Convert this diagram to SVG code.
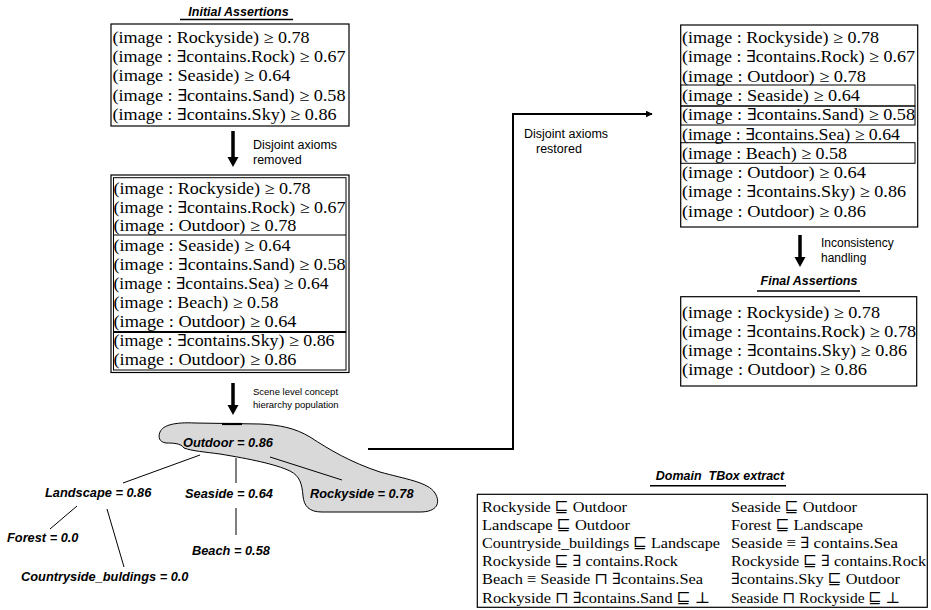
<svg xmlns="http://www.w3.org/2000/svg" width="931" height="610" viewBox="0 0 931 610">
<defs>
<style>
.bg{fill:#ffffff}
.box{fill:#ffffff;stroke:#000;stroke-width:1.2}
.ibox{fill:none;stroke:#000;stroke-width:1}
.div{stroke:#000;stroke-width:1.2;fill:none}
.m{font-family:"Liberation Serif","DejaVu Serif",serif;font-size:16.5px;fill:#000}
.tb{font-family:"Liberation Serif","DejaVu Serif",serif;font-size:15.5px;fill:#000}
.ttl{font-family:"Liberation Sans",Arial,sans-serif;font-size:12.5px;font-weight:bold;font-style:italic;fill:#000;white-space:pre}
.ul{stroke:#000;stroke-width:1.6}
.lbl{font-family:"Liberation Sans",Arial,sans-serif;font-size:12.5px;fill:#000}
.sm{font-family:"Liberation Sans",Arial,sans-serif;font-size:9.5px;fill:#000}
.node{font-family:"Liberation Sans",Arial,sans-serif;font-size:12.8px;font-weight:bold;font-style:italic;fill:#000}
.arr{fill:#000}
.edge{stroke:#000;stroke-width:1;fill:none}
.conn{stroke:#000;stroke-width:2;fill:none}
.blob{fill:#d9d9d9;stroke:#000;stroke-width:1}
</style>
<marker id="ah" viewBox="0 0 10 10" refX="9" refY="5" markerWidth="3.5" markerHeight="3.5" orient="auto" markerUnits="strokeWidth">
<path d="M0,0 L10,5 L0,10 Z" fill="#000"/>
</marker>
</defs>
<rect class="bg" x="0" y="0" width="931" height="610"/>

<g id="initial-assertions">
<text class="ttl" x="238.5" y="16" text-anchor="middle">Initial Assertions</text>
<line class="ul" x1="180" y1="19.5" x2="293" y2="19.5"/>
<rect class="box" x="111" y="24" width="238" height="102"/>
<text class="m" x="112.5" y="43" textLength="197" lengthAdjust="spacingAndGlyphs">(image : Rockyside) ≥ 0.78</text>
<text class="m" x="112.5" y="62.2" textLength="233" lengthAdjust="spacingAndGlyphs">(image : ∃contains.Rock) ≥ 0.67</text>
<text class="m" x="112.5" y="81.4" textLength="178" lengthAdjust="spacingAndGlyphs">(image : Seaside) ≥ 0.64</text>
<text class="m" x="112.5" y="100.6" textLength="233" lengthAdjust="spacingAndGlyphs">(image : ∃contains.Sand) ≥ 0.58</text>
<text class="m" x="112.5" y="119.8" textLength="224" lengthAdjust="spacingAndGlyphs">(image : ∃contains.Sky) ≥ 0.86</text>
</g>

<g id="label-removed">
<text class="lbl" x="253" y="149">Disjoint axioms</text>
<text class="lbl" x="253" y="163.5">removed</text>
</g>

<g id="expanded-assertions">
<rect class="box" x="111" y="175" width="238" height="197.5"/>
<rect class="ibox" x="113.5" y="177.7" width="232.5" height="192.3"/>
<line class="div" x1="113.5" y1="235" x2="346" y2="235"/>
<line class="div" x1="113.5" y1="332" x2="346" y2="332" style="stroke-width:2"/>
<text class="m" x="113.5" y="194" textLength="197" lengthAdjust="spacingAndGlyphs">(image : Rockyside) ≥ 0.78</text>
<text class="m" x="113.5" y="212.5" textLength="232" lengthAdjust="spacingAndGlyphs">(image : ∃contains.Rock) ≥ 0.67</text>
<text class="m" x="113.5" y="231" textLength="183" lengthAdjust="spacingAndGlyphs">(image : Outdoor) ≥ 0.78</text>
<text class="m" x="113.5" y="250.5" textLength="177" lengthAdjust="spacingAndGlyphs">(image : Seaside) ≥ 0.64</text>
<text class="m" x="113.5" y="269.5" textLength="232" lengthAdjust="spacingAndGlyphs">(image : ∃contains.Sand) ≥ 0.58</text>
<text class="m" x="113.5" y="288.5" textLength="215" lengthAdjust="spacingAndGlyphs">(image : ∃contains.Sea) ≥ 0.64</text>
<text class="m" x="113.5" y="307.5" textLength="165" lengthAdjust="spacingAndGlyphs">(image : Beach) ≥ 0.58</text>
<text class="m" x="113.5" y="326.5" textLength="183" lengthAdjust="spacingAndGlyphs">(image : Outdoor) ≥ 0.64</text>
<text class="m" x="113.5" y="346" textLength="221" lengthAdjust="spacingAndGlyphs">(image : ∃contains.Sky) ≥ 0.86</text>
<text class="m" x="113.5" y="365" textLength="183" lengthAdjust="spacingAndGlyphs">(image : Outdoor) ≥ 0.86</text>
</g>

<g id="label-scene">
<text class="sm" x="253" y="395">Scene level concept</text>
<text class="sm" x="253" y="408">hierarchy population</text>
</g>

<g id="hierarchy-blob">
<path class="blob" d="M160,432 C163,425 175,422 195,423 L260,424 C280,425 295,428 310,437 C330,450 350,462 380,472 C405,479 428,482 435,493 C441,503 437,512 420,512 L322,512 C309,512 304,506 303,496 C302,484 300,476 290,471 C275,464 250,459 220,454 C205,452 192,451 184,448 C181,443 172,443 166,443 C159,442 158,437 160,432 Z"/>
<line x1="222" y1="424" x2="242" y2="424" stroke="#000" stroke-width="2.2"/>
</g>

<g id="connectors">
<path class="arr" d="M231.25,131 H234.75 V157 H238.5 L233,167 L227.5,157 H231.25 Z"/>
<path class="arr" d="M231.25,383 H234.75 V405 H238.5 L233,415 L227.5,405 H231.25 Z"/>
<path class="arr" d="M798.25,235 H801.75 V257 H805.5 L800,267 L794.5,257 H798.25 Z"/>
<polyline class="conn" points="368,449 513,449 513,114 652,114" marker-end="url(#ah)"/>
<line class="edge" x1="200" y1="455" x2="123" y2="483"/>
<line class="edge" x1="236" y1="458" x2="236" y2="483"/>
<line class="edge" x1="270" y1="457" x2="342" y2="480"/>
<line class="edge" x1="236" y1="508" x2="236" y2="535"/>
<line class="edge" x1="77" y1="506" x2="50" y2="529"/>
<line class="edge" x1="107" y1="509" x2="124" y2="567"/>
</g>

<g id="node-outdoor"><text class="node" x="183" y="447">Outdoor = 0.86</text></g>
<g id="node-landscape"><text class="node" x="45" y="497">Landscape = 0.86</text></g>
<g id="node-seaside"><text class="node" x="185" y="498">Seaside = 0.64</text></g>
<g id="node-rockyside"><text class="node" x="310" y="498">Rockyside = 0.78</text></g>
<g id="node-forest"><text class="node" x="7" y="542">Forest = 0.0</text></g>
<g id="node-beach"><text class="node" x="192" y="555">Beach = 0.58</text></g>
<g id="node-countryside"><text class="node" x="21" y="581">Countryside_buldings = 0.0</text></g>

<g id="label-restored">
<text class="lbl" x="524" y="138">Disjoint axioms</text>
<text class="lbl" x="536" y="153">restored</text>
</g>

<g id="restored-assertions">
<rect class="box" x="680.7" y="25" width="237" height="202"/>
<rect class="ibox" x="680.7" y="85" width="234.3" height="21"/>
<rect class="ibox" x="680.7" y="106" width="234.3" height="19"/>
<rect class="ibox" x="680.7" y="142.7" width="234.3" height="20.6"/>
<text class="m" x="682" y="43" textLength="197" lengthAdjust="spacingAndGlyphs">(image : Rockyside) ≥ 0.78</text>
<text class="m" x="682" y="62.3" textLength="233" lengthAdjust="spacingAndGlyphs">(image : ∃contains.Rock) ≥ 0.67</text>
<text class="m" x="682" y="81.6" textLength="184" lengthAdjust="spacingAndGlyphs">(image : Outdoor) ≥ 0.78</text>
<text class="m" x="682" y="100.9" textLength="178" lengthAdjust="spacingAndGlyphs">(image : Seaside) ≥ 0.64</text>
<text class="m" x="682" y="120.2" textLength="233" lengthAdjust="spacingAndGlyphs">(image : ∃contains.Sand) ≥ 0.58</text>
<text class="m" x="682" y="139.5" textLength="218" lengthAdjust="spacingAndGlyphs">(image : ∃contains.Sea) ≥ 0.64</text>
<text class="m" x="682" y="158.8" textLength="165" lengthAdjust="spacingAndGlyphs">(image : Beach) ≥ 0.58</text>
<text class="m" x="682" y="178.1" textLength="184" lengthAdjust="spacingAndGlyphs">(image : Outdoor) ≥ 0.64</text>
<text class="m" x="682" y="197.4" textLength="224" lengthAdjust="spacingAndGlyphs">(image : ∃contains.Sky) ≥ 0.86</text>
<text class="m" x="682" y="216.7" textLength="184" lengthAdjust="spacingAndGlyphs">(image : Outdoor) ≥ 0.86</text>
</g>

<g id="label-inconsistency">
<text class="lbl" x="821" y="247" style="font-size:12px">Inconsistency</text>
<text class="lbl" x="821" y="262" style="font-size:12px">handling</text>
</g>

<g id="final-assertions">
<text class="ttl" x="809" y="285" text-anchor="middle">Final Assertions</text>
<line class="ul" x1="757" y1="291" x2="860" y2="291"/>
<rect class="box" x="680.7" y="296.7" width="236" height="89.3"/>
<text class="m" x="682" y="317.5" textLength="198" lengthAdjust="spacingAndGlyphs">(image : Rockyside) ≥ 0.78</text>
<text class="m" x="682" y="336.5" textLength="234" lengthAdjust="spacingAndGlyphs">(image : ∃contains.Rock) ≥ 0.78</text>
<text class="m" x="682" y="355.5" textLength="225" lengthAdjust="spacingAndGlyphs">(image : ∃contains.Sky) ≥ 0.86</text>
<text class="m" x="682" y="374.5" textLength="185" lengthAdjust="spacingAndGlyphs">(image : Outdoor) ≥ 0.86</text>
</g>

<g id="domain-tbox">
<text class="ttl" x="720" y="480" text-anchor="middle">Domain  TBox extract</text>
<line class="ul" x1="650" y1="485.7" x2="786" y2="485.7"/>
<rect class="box" x="477.3" y="494.3" width="450" height="113"/>
<text class="tb" x="482" y="511.5" textLength="145" lengthAdjust="spacingAndGlyphs">Rockyside ⊑ Outdoor</text>
<text class="tb" x="731" y="511.5" textLength="126" lengthAdjust="spacingAndGlyphs">Seaside ⊑ Outdoor</text>
<text class="tb" x="482" y="529.7" textLength="148" lengthAdjust="spacingAndGlyphs">Landscape ⊑ Outdoor</text>
<text class="tb" x="731" y="529.7" textLength="132" lengthAdjust="spacingAndGlyphs">Forest ⊑ Landscape</text>
<text class="tb" x="482" y="548" textLength="238" lengthAdjust="spacingAndGlyphs">Countryside_buildings ⊑ Landscape</text>
<text class="tb" x="731" y="548" textLength="167" lengthAdjust="spacingAndGlyphs">Seaside ≡ ∃ contains.Sea</text>
<text class="tb" x="482" y="566.2" textLength="196" lengthAdjust="spacingAndGlyphs">Rockyside ⊑ ∃ contains.Rock</text>
<text class="tb" x="731" y="566.2" textLength="195" lengthAdjust="spacingAndGlyphs">Rockyside ⊑ ∃ contains.Rock</text>
<text class="tb" x="482" y="584.4" textLength="221" lengthAdjust="spacingAndGlyphs">Beach ≡ Seaside ⊓ ∃contains.Sea</text>
<text class="tb" x="731" y="584.4" textLength="169" lengthAdjust="spacingAndGlyphs">∃contains.Sky ⊑ Outdoor</text>
<text class="tb" x="482" y="602.5" textLength="228" lengthAdjust="spacingAndGlyphs">Rockyside ⊓ ∃contains.Sand ⊑ ⊥</text>
<text class="tb" x="731" y="602.5" textLength="169" lengthAdjust="spacingAndGlyphs">Seaside ⊓ Rockyside ⊑ ⊥</text>
</g>
</svg>
